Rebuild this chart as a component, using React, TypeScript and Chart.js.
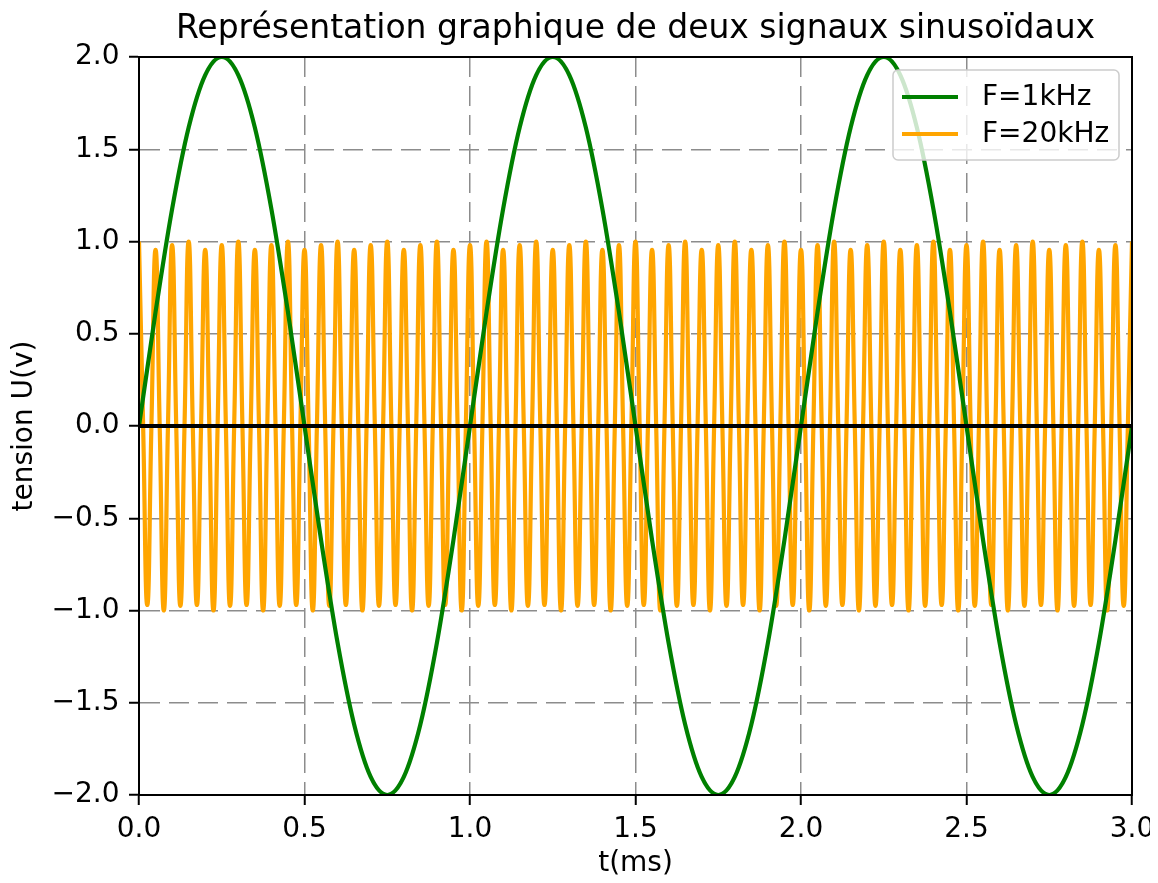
import React, { useEffect, useRef } from "react";
import { Chart, registerables } from "chart.js";

Chart.register(...registerables);

const TITLE = "Représentation graphique de deux signaux sinusoïdaux";
const X_LABEL = "t(ms)";
const Y_LABEL = "tension U(v)";
const SERIES_LABELS = ["F=1kHz", "F=20kHz"];
const SERIES_COLORS = ["#008000", "#ffa500"];
const X_TICK_RANGE = [0, 3];
const Y_TICK_RANGE = [-2, 2];
const TICK_STEP = 0.5;

const GREEN_STEP_MS = 0.05;
const GREEN_VALUES = [
  0, 0.618, 1.176, 1.618, 1.902, 2.0, 1.902, 1.618, 1.176, 0.618,
  0, -0.618, -1.176, -1.618, -1.902, -2.0, -1.902, -1.618, -1.176, -0.618,
  0, 0.618, 1.176, 1.618, 1.902, 2.0, 1.902, 1.618, 1.176, 0.618,
  0, -0.618, -1.176, -1.618, -1.902, -2.0, -1.902, -1.618, -1.176, -0.618,
  0, 0.618, 1.176, 1.618, 1.902, 2.0, 1.902, 1.618, 1.176, 0.618,
  0, -0.618, -1.176, -1.618, -1.902, -2.0, -1.902, -1.618, -1.176, -0.618,
  0,
];

const ORANGE_STEP_MS = 0.0125;
const ORANGE_VALUES = [
  1.0, 0, -0.97, 0, 0.955, 0, -1.0, 0, 0.98, 0, -0.975, 0,
  1.0, 0, -0.97, 0, 0.955, 0, -1.0, 0, 0.98, 0, -0.975, 0,
  1.0, 0, -0.97, 0, 0.955, 0, -1.0, 0, 0.98, 0, -0.975, 0,
  1.0, 0, -0.97, 0, 0.955, 0, -1.0, 0, 0.98, 0, -0.975, 0,
  1.0, 0, -0.97, 0, 0.955, 0, -1.0, 0, 0.98, 0, -0.975, 0,
  1.0, 0, -0.97, 0, 0.955, 0, -1.0, 0, 0.98, 0, -0.975, 0,
  1.0, 0, -0.97, 0, 0.955, 0, -1.0, 0, 0.98, 0, -0.975, 0,
  1.0, 0, -0.97, 0, 0.955, 0, -1.0, 0, 0.98, 0, -0.975, 0,
  1.0, 0, -0.97, 0, 0.955, 0, -1.0, 0, 0.98, 0, -0.975, 0,
  1.0, 0, -0.97, 0, 0.955, 0, -1.0, 0, 0.98, 0, -0.975, 0,
  1.0, 0, -0.97, 0, 0.955, 0, -1.0, 0, 0.98, 0, -0.975, 0,
  1.0, 0, -0.97, 0, 0.955, 0, -1.0, 0, 0.98, 0, -0.975, 0,
  1.0, 0, -0.97, 0, 0.955, 0, -1.0, 0, 0.98, 0, -0.975, 0,
  1.0, 0, -0.97, 0, 0.955, 0, -1.0, 0, 0.98, 0, -0.975, 0,
  1.0, 0, -0.97, 0, 0.955, 0, -1.0, 0, 0.98, 0, -0.975, 0,
  1.0, 0, -0.97, 0, 0.955, 0, -1.0, 0, 0.98, 0, -0.975, 0,
  1.0, 0, -0.97, 0, 0.955, 0, -1.0, 0, 0.98, 0, -0.975, 0,
  1.0, 0, -0.97, 0, 0.955, 0, -1.0, 0, 0.98, 0, -0.975, 0,
  1.0, 0, -0.97, 0, 0.955, 0, -1.0, 0, 0.98, 0, -0.975, 0,
  1.0, 0, -0.97, 0, 0.955, 0, -1.0, 0, 0.98, 0, -0.975, 0,
  1.0,
];

// horizontal reference line U = 0
const ZERO_LINE_T = [0, 3];
const ZERO_LINE_V = [0, 0];

const FONT = "'DejaVu Sans', 'Liberation Sans', sans-serif";
const W = 1142;
const H = 867;
const LINE_W = 4.2;

const toPoints = (values: number[], step: number) =>
  values.map((v, i) => ({ x: i * step, y: v }));

const fmtTick = (v: number) => {
  const n = Number(v);
  const s = Math.abs(n).toFixed(1);
  return n < -1e-9 ? "\u2212" + s : s;
};

const framePlugin = {
  id: "frame",
  afterDatasetsDraw(chart: any) {
    const { ctx, chartArea } = chart;
    ctx.save();
    ctx.strokeStyle = "#000";
    ctx.lineWidth = 2;
    ctx.setLineDash([]);
    ctx.strokeRect(
      chartArea.left,
      chartArea.top,
      chartArea.right - chartArea.left,
      chartArea.bottom - chartArea.top
    );
    ctx.restore();
  },
};

const legendPlugin = {
  id: "mplLegend",
  afterDraw(chart: any) {
    const { ctx, chartArea } = chart;
    const boxW = 226;
    const boxH = 90;
    const left = chartArea.right - 13 - boxW;
    const top = chartArea.top + 13;
    ctx.save();
    ctx.beginPath();
    if (ctx.roundRect) ctx.roundRect(left, top, boxW, boxH, 5);
    else ctx.rect(left, top, boxW, boxH);
    ctx.fillStyle = "rgba(255,255,255,0.8)";
    ctx.fill();
    ctx.strokeStyle = "#cccccc";
    ctx.lineWidth = 1.5;
    ctx.stroke();
    const rows = [top + 27, top + 64];
    [0, 1].forEach((i) => {
      const ds = chart.data.datasets[i];
      ctx.beginPath();
      ctx.strokeStyle = ds.borderColor;
      ctx.lineWidth = LINE_W;
      ctx.moveTo(left + 9, rows[i]);
      ctx.lineTo(left + 65, rows[i]);
      ctx.stroke();
      ctx.fillStyle = "#000";
      ctx.font = `28px ${FONT}`;
      ctx.textBaseline = "middle";
      ctx.textAlign = "left";
      ctx.fillText(ds.label, left + 89, rows[i] + 1);
    });
    ctx.restore();
  },
};

export default function App() {
  const ref = useRef<HTMLCanvasElement>(null);

  useEffect(() => {
    if (!ref.current) return;
    const tickFont = { family: FONT, size: 28, lineHeight: 1.2 };
    const gridOpts = {
      color: "#8c8c8c",
      lineWidth: 1.5,
      drawTicks: true,
      tickLength: 10,
      tickWidth: 2,
      tickColor: "#000",
      tickBorderDash: [],
    };
    const borderOpts = { display: true, color: "#000", width: 2, dash: [20, 9] };
    const chart = new Chart(ref.current, {
      type: "line",
      data: {
        datasets: [
          {
            label: SERIES_LABELS[0],
            data: toPoints(GREEN_VALUES, GREEN_STEP_MS),
            borderColor: SERIES_COLORS[0],
            borderWidth: LINE_W,
            pointRadius: 0,
            cubicInterpolationMode: "monotone",
            fill: false,
            clip: 0,
            order: 1,
          },
          {
            label: SERIES_LABELS[1],
            data: toPoints(ORANGE_VALUES, ORANGE_STEP_MS),
            borderColor: SERIES_COLORS[1],
            borderWidth: LINE_W,
            pointRadius: 0,
            tension: 0.5,
            fill: false,
            clip: 0,
            order: 2,
          },
          {
            label: "zero",
            data: ZERO_LINE_T.map((t, i) => ({ x: t, y: ZERO_LINE_V[i] })),
            borderColor: "#000",
            borderWidth: LINE_W,
            pointRadius: 0,
            fill: false,
            clip: 0,
            order: 0,
          },
        ],
      },
      options: {
        animation: false,
        responsive: false,
        devicePixelRatio: 1,
        layout: { padding: { top: 0, right: 18, bottom: 0, left: 0 } },
        plugins: {
          legend: { display: false },
          tooltip: { enabled: false },
          title: {
            display: true,
            fullSize: false,
            text: TITLE,
            color: "#000",
            font: { family: FONT, size: 33, weight: "normal", lineHeight: 1.2 },
            padding: { top: 2, bottom: 7.4 },
          },
        },
        scales: {
          x: {
            type: "linear",
            min: X_TICK_RANGE[0],
            max: X_TICK_RANGE[1],
            ticks: {
              stepSize: TICK_STEP,
              color: "#000",
              font: tickFont,
              padding: 8,
              maxRotation: 0,
              autoSkip: false,
              callback: (v: any) => fmtTick(v),
            },
            grid: gridOpts,
            border: borderOpts,
            title: {
              display: true,
              text: X_LABEL,
              color: "#000",
              font: { family: FONT, size: 28, lineHeight: 0.8 },
              padding: { top: 0, bottom: 0 },
            },
            afterFit: (scale: any) => {
              scale.height = 80;
              scale.paddingLeft = 0;
              scale.paddingRight = 0;
            },
          },
          y: {
            type: "linear",
            min: Y_TICK_RANGE[0],
            max: Y_TICK_RANGE[1],
            ticks: {
              stepSize: TICK_STEP,
              color: "#000",
              font: tickFont,
              padding: 9.5,
              autoSkip: false,
              callback: (v: any) => fmtTick(v),
            },
            grid: gridOpts,
            border: borderOpts,
            title: {
              display: true,
              text: Y_LABEL,
              color: "#000",
              font: { family: FONT, size: 28, lineHeight: 1 },
              padding: { top: 3, bottom: 0 },
            },
            afterFit: (scale: any) => {
              scale.width = 131;
              scale.paddingTop = 0;
              scale.paddingBottom = 0;
            },
          },
        },
      } as any,
      plugins: [framePlugin, legendPlugin],
    });
    return () => chart.destroy();
  }, []);

  return (
    <div style={{ width: W, height: H }}>
      <canvas ref={ref} width={W} height={H} style={{ display: "block" }} />
    </div>
  );
}
